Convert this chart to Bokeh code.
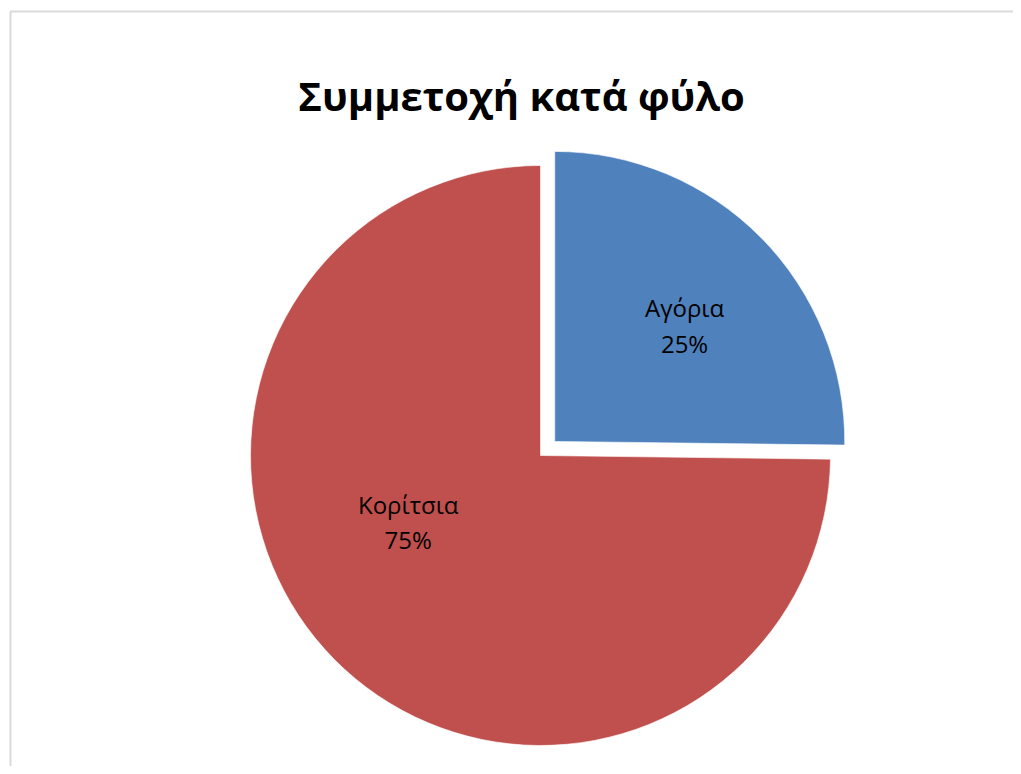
import math
from bokeh.plotting import figure
from bokeh.models import ColumnDataSource, BoxAnnotation, Range1d
from bokeh.core.properties import value
from bokeh.embed import file_html
from bokeh.resources import INLINE

# ---- data ----
title_text = "Συμμετοχή κατά φύλο"
categories = ["Αγόρια", "Κορίτσια"]
shares = [25.2, 74.8]
colors = ["#4F81BD", "#C0504D"]

# ---- layout constants ----
W, H = 1013, 766
cx, cy = 540, H - 455      # pie centre (data units = pixels)
R = 290
explode = [20, 0]
label_r = [0.60, 0.51]
label_pos_frac = [0.532, 0.567]  # label position within each slice's span (clockwise)

total = sum(shares)
starts, ends, xs, ys, lx, ly, texts = [], [], [], [], [], [], []
ang = 90.0  # start at 12 o'clock, go clockwise
for i, (cat, v) in enumerate(zip(categories, shares)):
    sweep = 360.0 * v / total
    a0 = ang - sweep
    a1 = ang
    mid = math.radians((a0 + a1) / 2)
    ox = cx + explode[i] * math.cos(mid)
    oy = cy + explode[i] * math.sin(mid)
    starts.append(math.radians(a0))
    ends.append(math.radians(a1))
    xs.append(ox)
    ys.append(oy)
    la = math.radians(a1 - sweep * label_pos_frac[i])
    lx.append(ox + label_r[i] * R * math.cos(la))
    ly.append(oy + label_r[i] * R * math.sin(la))
    texts.append(f"{cat}\n{round(100 * v / total)}%")
    ang = a0

src = ColumnDataSource(dict(x=xs, y=ys, start=starts, end=ends, color=colors,
                            lx=lx, ly=ly, text=texts))

p = figure(width=W, height=H, output_backend="svg", toolbar_location=None,
           x_range=Range1d(0, W), y_range=Range1d(0, H), min_border=0)
p.axis.visible = False
p.grid.visible = False
p.outline_line_color = None
p.background_fill_color = "white"
p.border_fill_color = "white"

p.wedge(x="x", y="y", radius=R, start_angle="start", end_angle="end",
        fill_color="color", line_color="white", line_width=0.6, source=src)

p.text(x="lx", y="ly", text="text", source=src, text_align="center",
       text_baseline="middle", text_font=value("Open Sans"),
       text_font_size="24px", text_line_height=1.07, text_color="black")

p.text(x=[521], y=[H - 95], text=[title_text], text_align="center",
       text_baseline="alphabetic", text_font=value("Open Sans"),
       text_font_size="40px", text_font_style="bold", text_color="black")

frame_box = BoxAnnotation(left=10, right=5000, top=H - 11, bottom=-5000,
                          fill_color=None, line_color="#868686", line_width=2)
p.add_layout(frame_box)

open("out.html", "w").write(file_html(p, INLINE))
